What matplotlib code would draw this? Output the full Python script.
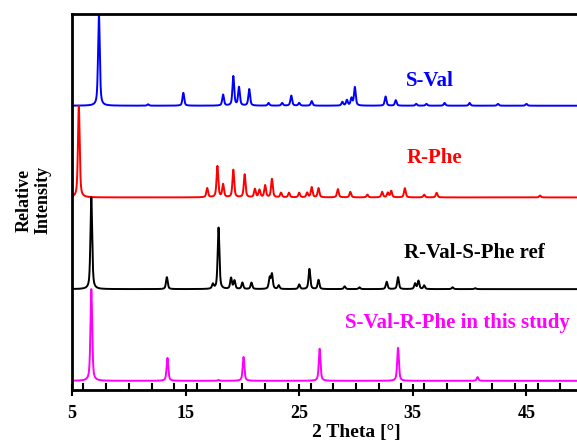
import numpy as np
import matplotlib.pyplot as plt
from matplotlib.ticker import MultipleLocator, FixedLocator

# peak lists: 2theta position, relative intensity (%)
sval_pos = [7.37, 11.7, 14.8, 18.3, 19.2, 19.7, 20.6, 22.3, 23.5, 24.3, 25.0, 26.1,
            28.8, 29.2, 29.6, 29.9, 32.6, 33.5, 35.3, 36.2, 37.8, 40.0, 42.5, 45.0]
sval_int = [100, 1.5, 14, 12, 32, 20, 18, 3, 3, 11, 3, 5,
            4, 6, 8, 20, 10, 6, 2, 2, 3, 3, 2, 2]

rphe_pos = [5.6, 16.9, 17.8, 18.3, 19.2, 20.2, 21.1, 21.5, 22.0, 22.6, 23.4, 24.1,
            25.0, 25.7, 26.1, 26.7, 28.4, 29.5, 31.0, 32.3, 32.8, 33.1, 34.3, 36.0,
            37.1, 46.2]
rphe_int = [100, 10, 34, 14, 30, 25, 9, 8, 13, 20, 5, 5,
            5, 5, 11, 10, 9, 6, 3, 6, 5, 7, 10, 3,
            5, 2]

ref_pos = [6.7, 13.35, 17.4, 17.9, 19.0, 19.3, 20.0, 20.8, 22.4, 22.6, 23.2, 25.0,
           25.9, 26.7, 29.0, 30.3, 32.7, 33.7, 35.2, 35.5, 36.0, 38.5, 40.5]
ref_int = [100, 13, 5, 67, 12, 9, 7, 7, 12, 16, 4, 5,
           22, 10, 3, 2, 8, 13, 6, 9, 4, 2, 1]

study_pos = [6.7, 13.4, 17.9, 20.1, 26.8, 33.7, 40.7]
study_int = [100, 25, 1, 26, 35, 36, 4]

names = ['S-Val', 'R-Phe', 'R-Val-S-Phe ref', 'S-Val-R-Phe in this study']
colors = ['#0000ff', '#ff0000', '#000000', '#ff00ff']
offsets = [3, 2, 1, 0]
label_xy = [(36.5, 3.27), (36.9, 2.43), (40.4, 1.39), (38.9, 0.63)]

two_theta = np.arange(5, 55, 0.01)


def pattern(pos, inten, fwhm=0.18):
    # pseudo-Voigt profile summed over the peak list, scaled to 1 for 100 %
    y = np.zeros_like(two_theta)
    g = fwhm / 2
    for p, h in zip(pos, inten):
        lor = 1 / (1 + ((two_theta - p) / g) ** 2)
        gau = np.exp(-np.log(2) * ((two_theta - p) / g) ** 2)
        y += h / 100 * (0.6 * lor + 0.4 * gau)
    return y


plt.rcParams['font.family'] = 'Liberation Serif'
plt.rcParams['font.weight'] = 'bold'

fig = plt.figure(figsize=(5.77, 4.41), dpi=100)
ax = fig.add_axes([72 / 577, 51 / 441, 568 / 577, 376 / 441])

peaks = [(sval_pos, sval_int), (rphe_pos, rphe_int), (ref_pos, ref_int), (study_pos, study_int)]
for (pos, inten), name, c, off, (tx, ty) in zip(peaks, names, colors, offsets, label_xy):
    ax.plot(two_theta, pattern(pos, inten) + off, color=c, lw=1.4)
    ax.text(tx, ty, name, color=c, fontsize=15, fontweight='bold', ha='center', va='center')

ax.set_xlim(5, 55)
ax.set_ylim(-0.1, 4.0)
ax.xaxis.set_major_locator(FixedLocator([5, 15, 25, 35, 45]))
ax.xaxis.set_minor_locator(MultipleLocator(2))
ax.tick_params(axis='x', which='major', direction='inout', length=9, width=1.5,
               labelsize=13, pad=6)
ax.tick_params(axis='x', which='minor', direction='in', length=5, width=1.5)
ax.set_yticks([])
for s in ax.spines.values():
    s.set_linewidth(2)
ax.spines['right'].set_visible(False)

ax.set_xlabel('2 Theta [°]', fontsize=14, fontweight='bold', labelpad=2)
ax.set_ylabel('Relative\nIntensity', fontsize=13, fontweight='bold', linespacing=1.1)
ax.yaxis.set_label_coords(-0.037, 0.505)

fig.savefig('out.png', dpi=100)
